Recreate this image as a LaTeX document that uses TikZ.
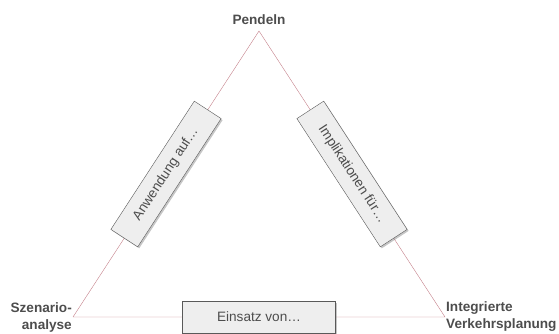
\documentclass[tikz,border=0pt]{standalone}
\usepackage{fontspec}
\setmainfont{Liberation Sans}
\usetikzlibrary{shadows}
\definecolor{linered}{RGB}{196,128,138}
\definecolor{txtgray}{RGB}{77,77,77}
\definecolor{boxgray}{RGB}{238,238,238}
\tikzset{
  corner/.style={font=\bfseries\fontsize{13.6}{17}\selectfont,text=txtgray,inner sep=1pt},
  relbox/.style={draw=black!65,fill=boxgray,text=txtgray,
    minimum width=153pt,minimum height=32pt,inner sep=0pt,
    font=\fontsize{13.6}{16}\selectfont,
    drop shadow={shadow xshift=1.5pt,shadow yshift=-1.5pt,opacity=.45}}
}
\begin{document}
\begin{tikzpicture}[x=1pt,y=-1pt]
\useasboundingbox (0,0) rectangle (559,334);
% corners of the triangle
\coordinate (P) at (259,31);
\coordinate (S) at (73,317);
\coordinate (V) at (445,317);
\node[corner,anchor=base] (pend) at ([yshift=6.5pt]P) {Pendeln};
\node[corner,anchor=east,align=right] (szen) at (S) {Szenario-\\analyse};
\node[corner,anchor=west,align=left] (verk) at (V) {Integrierte\\Verkehrsplanung};

\draw[linered,thin] (S) -- node[relbox,sloped] (anw) {Anwendung auf…}
  (P) -- node[relbox,sloped] (impl) {Implikationen für…}
  (V) -- node[relbox] (eins) {Einsatz von…} (S);
\end{tikzpicture}
\end{document}
